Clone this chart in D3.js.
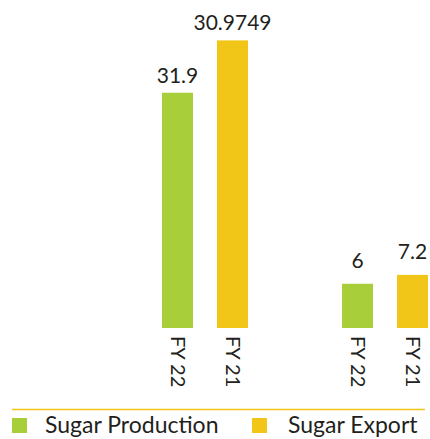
<!DOCTYPE html>
<html>
<head>
<meta charset="utf-8">
<script src="https://cdn.jsdelivr.net/npm/d3@7"></script>
<style>
  body { margin: 0; background: #fff; }
  svg text { font-family: Lato, "Noto Sans", sans-serif; fill: #231f20; }
</style>
</head>
<body>
<svg id="chart" width="430" height="439"></svg>
<script>
// data
var groups = ["Sugar Production", "Sugar Export"]
var years = ["FY 22", "FY 21"]
var values = [[31.9, 39], [6, 7.2]]          // bar heights as drawn
var valueLabels = [["31.9", "30.9749"], ["6", "7.2"]]  // text printed over the bars
var colors = ["#a8cf3a", "#f2c618"]

var svg = d3.select("#chart")
var baseY = 328

var x0 = d3.scaleBand().domain(groups).range([162, 428]).paddingInner(94/180)
var x1 = d3.scaleBand().domain(years).range([0, x0.bandwidth()]).paddingInner(24/55)
var y = d3.scaleLinear().domain([0, 40]).range([baseY, baseY - 295])

var rows = []
groups.forEach(function(g, gi){
  years.forEach(function(yr, yi){
    rows.push({group: g, year: yr, value: values[gi][yi], label: valueLabels[gi][yi], color: colors[yi]})
  })
})

var bar = svg.selectAll("g.bar").data(rows).enter().append("g").attr("class","bar")
  .attr("transform", function(d){ return "translate(" + (x0(d.group) + x1(d.year)) + ",0)" })

bar.append("rect")
  .attr("x", 0).attr("width", x1.bandwidth())
  .attr("y", function(d){ return y(d.value) })
  .attr("height", function(d){ return baseY - y(d.value) })
  .attr("fill", function(d){ return d.color })

bar.append("text")
  .attr("x", x1.bandwidth()/2)
  .attr("y", function(d){ return y(d.value) - (d.value < 10 ? 16 : 10) })
  .attr("text-anchor","middle")
  .attr("font-size","21px")
  .text(function(d){ return d.label })

// rotated year labels under each bar
bar.append("text")
  .attr("transform", "translate(" + (x1.bandwidth()/2) + "," + (baseY + 8) + ") rotate(90)")
  .attr("dy","0.35em")
  .attr("font-size","20px")
  .text(function(d){ return d.year })

// legend
svg.append("line").attr("x1", 12).attr("x2", 425).attr("y1", 409.5).attr("y2", 409.5)
  .attr("stroke", colors[1]).attr("stroke-width", 1.5)

var legendX = [12, 252]
var leg = svg.selectAll("g.legend").data(groups).enter().append("g").attr("class","legend")
  .attr("transform", function(d,i){ return "translate(" + legendX[i] + ",418)" })
leg.append("rect").attr("width", 15).attr("height", 15).attr("fill", function(d,i){ return colors[i] })
leg.append("text").attr("x", function(d,i){ return i ? 36 : 33 }).attr("y", 15).attr("font-size","23px").text(function(d){ return d })
</script>
</body>
</html>
